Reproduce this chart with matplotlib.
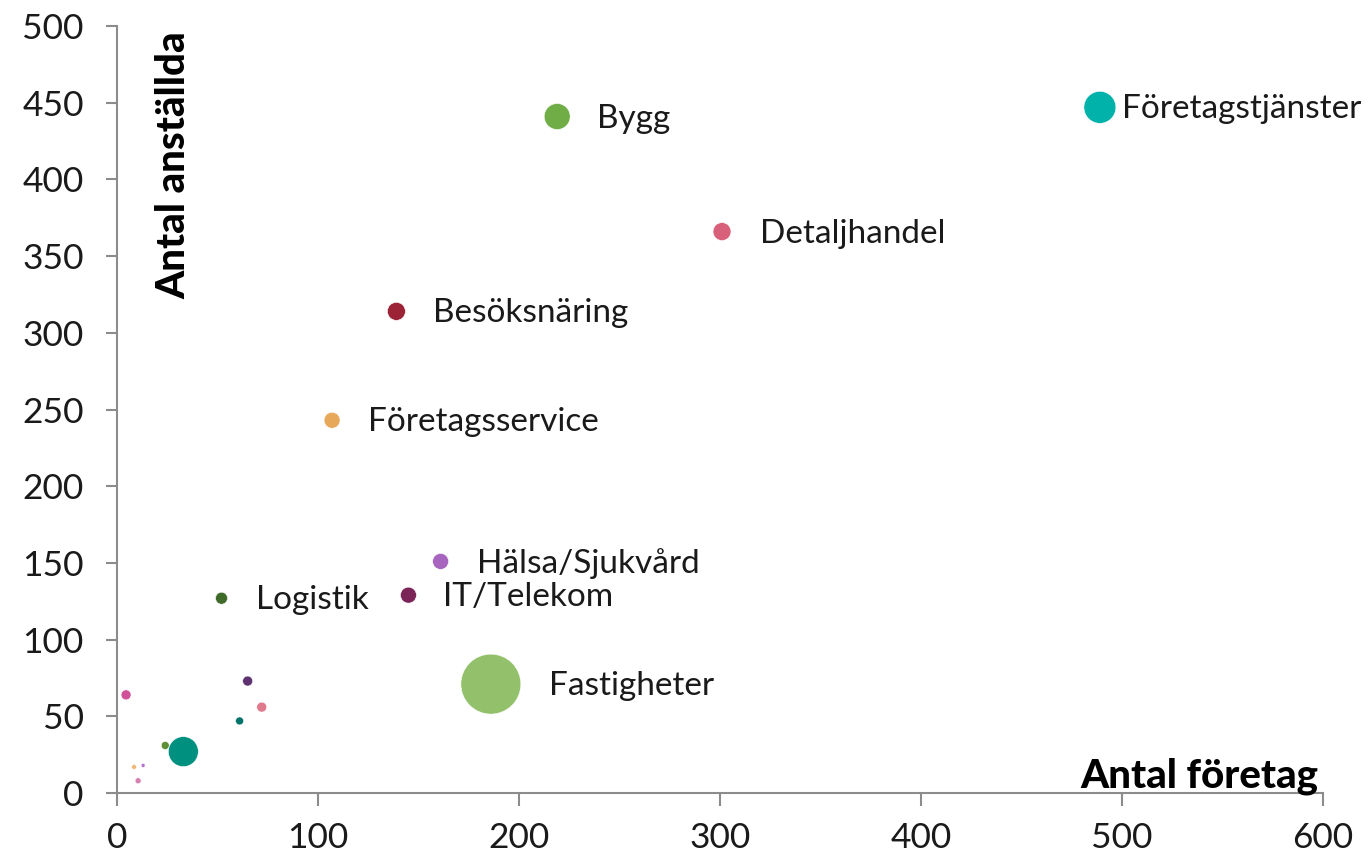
import numpy as np
import matplotlib.pyplot as plt

# Branscher: antal företag, antal anställda, bubbelstorlek
branscher = ['Företagstjänster', 'Bygg', 'Detaljhandel', 'Besöksnäring', 'Företagsservice',
             'Hälsa/Sjukvård', 'Logistik', 'IT/Telekom', 'Fastigheter',
             '', '', '', '', '', '', '', '', '']
foretag = [489, 219, 301, 139, 107, 161, 52, 145, 186,
           4.5, 65, 72, 61, 24, 33, 8.5, 13, 10.5]
anstallda = [447, 441, 366, 314, 243, 151, 127, 129, 71,
             64, 73, 56, 47, 31, 27, 17, 18, 8]
storlek = [256, 169, 81, 81, 64, 64, 36, 64, 900,
           25, 25, 25, 16, 16, 225, 6, 4, 9]

farger = ['#00B2A9', '#70AD47', '#D9607A', '#9B2335', '#E8A85A',
          '#A865C0', '#3F6B2A', '#7B2458', '#93C06A',
          '#D0509A', '#5E3270', '#DE7A8C', '#00736A', '#5E8E36',
          '#009080', '#F0B878', '#B070D0', '#D880B0']

# label offsets in points (dx)
dx = [16, 29, 27, 26, 26, 26, 25, 25, 42]

plt.rcParams['font.family'] = ['Lato', 'DejaVu Sans']

fig = plt.figure(figsize=(13.7, 8.59), dpi=100)
ax = fig.add_axes([0.0854, 0.0768, 0.8803, 0.8929])

s = np.array(storlek) * 2.07
ax.scatter(foretag, anstallda, s=s, c=farger, edgecolors='white', linewidths=0.4,
           zorder=3, clip_on=False)

for i, namn in enumerate(branscher):
    if namn:
        ax.annotate(namn, (foretag[i], anstallda[i]), xytext=(dx[i], -1.5),
                    textcoords='offset points', ha='left', va='center',
                    fontsize=24, color='#1a1a1a')

ax.set_xlim(0, 600)
ax.set_ylim(0, 500)
ax.set_xticks(np.arange(0, 601, 100))
ax.set_yticks(np.arange(0, 501, 50))

for side in ['top', 'right']:
    ax.spines[side].set_visible(False)
for side in ['left', 'bottom']:
    ax.spines[side].set_color('#8c8c8c')
    ax.spines[side].set_linewidth(1.5)

ax.tick_params(axis='both', direction='out', color='#8c8c8c', width=1.5,
               labelsize=25.5, labelcolor='#1a1a1a')
ax.tick_params(axis='y', length=8, pad=16)
ax.tick_params(axis='x', length=9, pad=12)

ax.text(0.047, 0.9935, 'Antal anställda', transform=ax.transAxes, rotation=90,
        ha='center', va='top', fontsize=29, fontweight='black', color='black')
ax.text(0.9965, 0.022, 'Antal företag', transform=ax.transAxes,
        ha='right', va='center', fontsize=29, fontweight='black', color='black')

fig.savefig('out.png', dpi=100)
